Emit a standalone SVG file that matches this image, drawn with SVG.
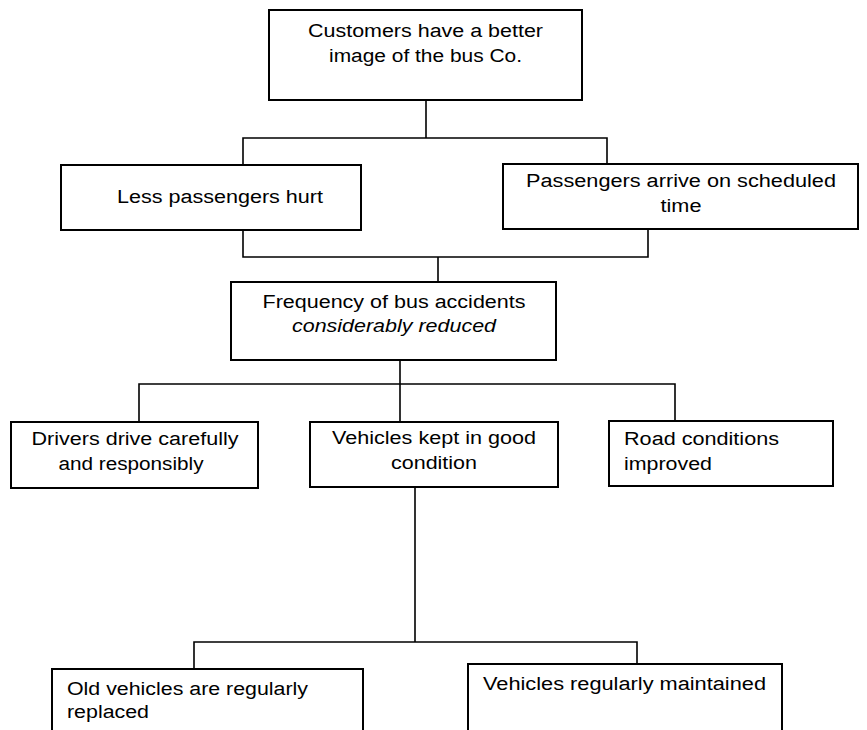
<svg xmlns="http://www.w3.org/2000/svg" width="867" height="730" viewBox="0 0 867 730">
<style>
.box{fill:#fff;stroke:#000;stroke-width:2}
.conn{fill:none;stroke:#000;stroke-width:1.6}
text{font-family:"Liberation Sans",Arial,sans-serif;font-size:18px;fill:#000}
.m{text-anchor:middle}
.i{font-style:italic}
</style>
<rect x="0" y="0" width="867" height="730" fill="#fff"/>
<g id="connectors">
<path class="conn" d="M426,100 V138 M243,165 V138 H607 V164"/>
<path class="conn" d="M243,230 V257 H648 V229 M438,257 V282"/>
<path class="conn" d="M400,360 V422 M139,422 V384 H675 V421"/>
<path class="conn" d="M415,487 V642 M194,669 V642 H637 V664"/>
</g>
<g id="n-customers">
<rect class="box" x="269" y="10" width="313" height="90"/>
<text class="m" x="425.5" y="37" textLength="235" lengthAdjust="spacingAndGlyphs">Customers have a better</text>
<text class="m" x="425.5" y="62" textLength="193" lengthAdjust="spacingAndGlyphs">image of the bus Co.</text>
</g>
<g id="n-less">
<rect class="box" x="61" y="165" width="300" height="65"/>
<text x="117" y="203" textLength="206" lengthAdjust="spacingAndGlyphs">Less passengers hurt</text>
</g>
<g id="n-passengers">
<rect class="box" x="503" y="164" width="355" height="65"/>
<text class="m" x="681" y="187" textLength="310" lengthAdjust="spacingAndGlyphs">Passengers arrive on scheduled</text>
<text class="m" x="681" y="212" textLength="41" lengthAdjust="spacingAndGlyphs">time</text>
</g>
<g id="n-frequency">
<rect class="box" x="231" y="282" width="325" height="78"/>
<text class="m" x="394" y="308" textLength="263" lengthAdjust="spacingAndGlyphs">Frequency of bus accidents</text>
<text class="m i" x="394" y="332" textLength="204" lengthAdjust="spacingAndGlyphs">considerably reduced</text>
</g>
<g id="n-drivers">
<rect class="box" x="11" y="422" width="247" height="66"/>
<text class="m" x="135" y="445" textLength="207" lengthAdjust="spacingAndGlyphs">Drivers drive carefully</text>
<text class="m" x="131" y="470" textLength="145" lengthAdjust="spacingAndGlyphs">and responsibly</text>
</g>
<g id="n-vehicles">
<rect class="box" x="310" y="422" width="248" height="65"/>
<text class="m" x="434" y="444" textLength="204" lengthAdjust="spacingAndGlyphs">Vehicles kept in good</text>
<text class="m" x="434" y="469" textLength="86" lengthAdjust="spacingAndGlyphs">condition</text>
</g>
<g id="n-road">
<rect class="box" x="609" y="421" width="224" height="65"/>
<text x="624" y="445" textLength="155" lengthAdjust="spacingAndGlyphs">Road conditions</text>
<text x="624" y="470" textLength="88" lengthAdjust="spacingAndGlyphs">improved</text>
</g>
<g id="n-old">
<rect class="box" x="52" y="669" width="311" height="80"/>
<text x="67" y="695" textLength="241" lengthAdjust="spacingAndGlyphs">Old vehicles are regularly</text>
<text x="67" y="718" textLength="82" lengthAdjust="spacingAndGlyphs">replaced</text>
</g>
<g id="n-maintained">
<rect class="box" x="468" y="664" width="314" height="85"/>
<text x="483" y="690" textLength="283" lengthAdjust="spacingAndGlyphs">Vehicles regularly maintained</text>
</g>
</svg>
